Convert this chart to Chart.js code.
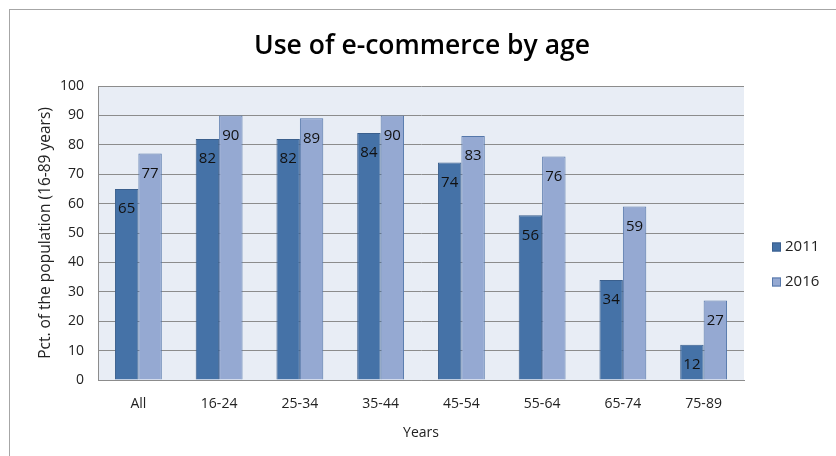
<!DOCTYPE html>
<html>
<head>
<meta charset="utf-8">
<script src="https://cdn.jsdelivr.net/npm/chart.js@4/dist/chart.umd.min.js"></script>
<style>
  html, body { margin: 0; padding: 0; background: #fff; overflow: hidden; }
  #wrap { position: relative; width: 836px; height: 456px; }
  #frame { position: absolute; left: 9px; top: 9px; width: 840px; height: 460px; border: 1px solid #a6a6a6; box-sizing: border-box; }
  canvas { position: absolute; left: 0; top: 0; }
</style>
</head>
<body>
<div id="wrap">
  <div id="frame"></div>
  <canvas id="chart" width="836" height="456"></canvas>
</div>
<script>
// Age groups and share of population using e-commerce
const ageGroups = ['All', '16-24', '25-34', '35-44', '45-54', '55-64', '65-74', '75-89'];
const values2011 = [65, 82, 82, 84, 74, 56, 34, 12];
const values2016 = [77, 90, 89, 90, 83, 76, 59, 27];
const seriesNames = ['2011', '2016'];
const yTicks = [0, 10, 20, 30, 40, 50, 60, 70, 80, 90, 100];
const chartTitle = 'Use of e-commerce by age';

const FONT = '"Open Sans", "Liberation Sans", sans-serif';
const TEXT = '#222';

// Light plot-area fill behind the bars
const plotBackground = {
  id: 'plotBackground',
  beforeDraw(chart) {
    const { ctx, chartArea: a } = chart;
    ctx.save();
    ctx.fillStyle = '#e8edf5';
    ctx.fillRect(a.left, a.top, a.right - a.left, a.bottom - a.top);
    ctx.restore();
  }
};

// Value labels just inside the top of each bar
const barValues = {
  id: 'barValues',
  afterDatasetsDraw(chart) {
    const { ctx } = chart;
    ctx.save();
    ctx.font = '15px ' + FONT;
    ctx.fillStyle = '#111';
    ctx.textAlign = 'center';
    ctx.textBaseline = 'middle';
    chart.data.datasets.forEach((ds, i) => {
      chart.getDatasetMeta(i).data.forEach((bar, j) => {
        ctx.fillText(String(ds.data[j]), bar.x, bar.y + 20);
      });
    });
    ctx.restore();
  }
};

// Title centred over the whole canvas, and legend to the right of the plot
const titleAndLegend = {
  id: 'titleAndLegend',
  afterDraw(chart) {
    const { ctx, chartArea: a } = chart;
    ctx.save();
    ctx.font = '600 26.5px ' + FONT;
    ctx.fillStyle = '#000';
    ctx.textAlign = 'center';
    ctx.textBaseline = 'middle';
    ctx.fillText(chartTitle, 422, 46);

    ctx.font = '15px ' + FONT;
    ctx.textAlign = 'left';
    chart.data.datasets.forEach((ds, i) => {
      const y = 247 + i * 35;
      const x = a.right + 28;
      ctx.fillStyle = ds.backgroundColor;
      ctx.fillRect(x, y - 4.5, 9, 9);
      ctx.strokeStyle = ds.borderColor;
      ctx.lineWidth = 1;
      ctx.strokeRect(x + 0.5, y - 4, 8, 8);
      ctx.fillStyle = TEXT;
      ctx.fillText(ds.label, x + 13, y);
    });
    ctx.restore();
  }
};

new Chart(document.getElementById('chart'), {
  type: 'bar',
  data: {
    labels: ageGroups,
    datasets: [
      { label: seriesNames[0], data: values2011, backgroundColor: '#4572a7', borderColor: '#3a5f8d', borderWidth: 1 },
      { label: seriesNames[1], data: values2016, backgroundColor: '#95a9d2', borderColor: '#5577aa', borderWidth: 1 }
    ]
  },
  options: {
    responsive: false,
    animation: false,
    layout: { padding: { left: 0, right: 92, top: 86, bottom: 0 } },
    categoryPercentage: 0.58,
    barPercentage: 1.0,
    plugins: {
      legend: { display: false },
      tooltip: { enabled: false },
      title: { display: false }
    },
    scales: {
      x: {
        grid: { display: false, drawTicks: false },
        border: { display: true, color: '#8c8c8c', width: 1 },
        ticks: { color: TEXT, font: { family: FONT, size: 14 }, padding: 16 },
        title: { display: true, text: 'Years', color: TEXT, font: { family: FONT, size: 14 }, padding: { top: 0, bottom: 15 } },
        afterFit(scale) { scale.height = 76; }
      },
      y: {
        min: 0, max: 100,
        afterBuildTicks(scale) { scale.ticks = yTicks.map(v => ({ value: v })); },
        grid: { color: '#8c8c8c', lineWidth: 1, drawTicks: false },
        border: { display: true, color: '#8c8c8c', width: 1 },
        ticks: { color: TEXT, font: { family: FONT, size: 14 }, padding: 14 },
        title: { display: true, text: 'Pct. of the population (16-89 years)', color: TEXT, font: { family: FONT, size: 15.5 }, padding: { top: 36, bottom: 0 } },
        afterFit(scale) { scale.width = 98; }
      }
    }
  },
  plugins: [plotBackground, barValues, titleAndLegend]
});
</script>
</body>
</html>
